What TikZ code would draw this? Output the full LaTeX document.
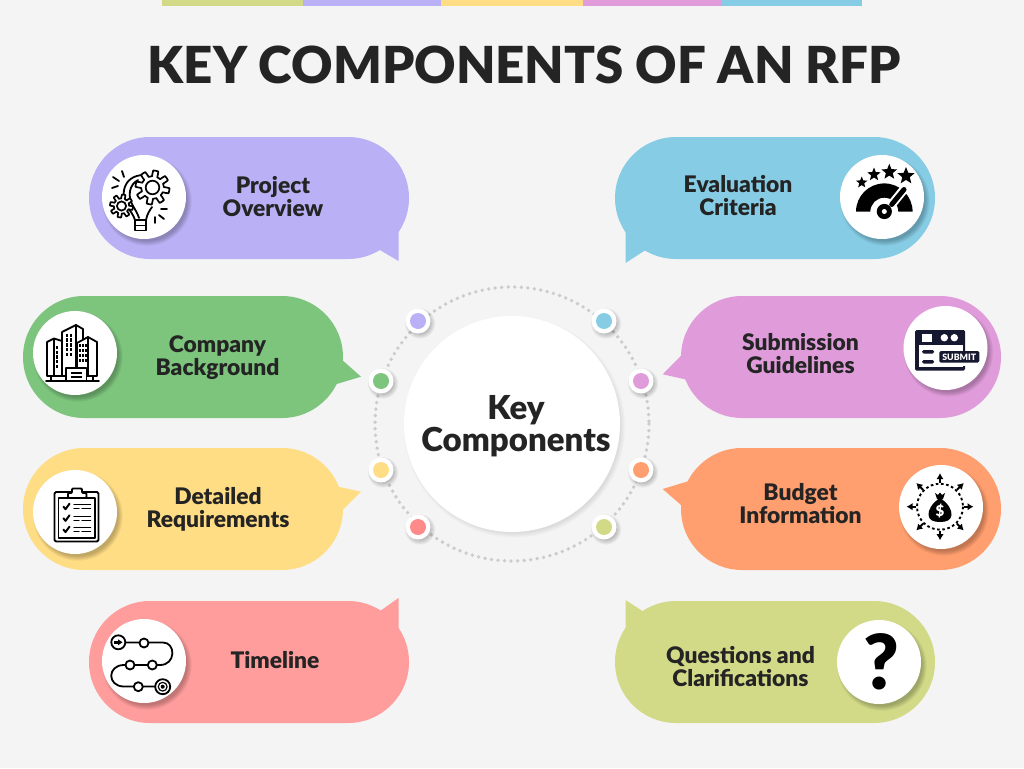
\documentclass[tikz,border=0pt]{standalone}
\usepackage{fontspec}
\setmainfont{Lato}[BoldFont={Lato Black}]
\usetikzlibrary{shapes.geometric,arrows.meta,calc}
\definecolor{bgc}{HTML}{F4F4F4}
\definecolor{cpur}{HTML}{B9B0F5}
\definecolor{cblu}{HTML}{86CCE4}
\definecolor{cgrn}{HTML}{7DC47D}
\definecolor{cpnk}{HTML}{E09CDA}
\definecolor{cyel}{HTML}{FFDD85}
\definecolor{corg}{HTML}{FF9E6E}
\definecolor{cred}{HTML}{FF9C9C}
\definecolor{cred2}{HTML}{FF8A8A}
\definecolor{clim}{HTML}{D2DA88}
\definecolor{ink}{HTML}{242424}
\definecolor{navy}{HTML}{16182F}
\tikzset{
 x=1pt,y=-1pt,
 label/.style={font=\fontsize{22.8}{23}\selectfont\bfseries,text=ink,align=center,inner sep=0pt},
 ln/.style={draw=black,line width=1.8pt,line cap=round,line join=round},
 stard/.style={star,star points=5,star point ratio=2.3,fill=black,draw=none,inner sep=0pt,rotate=#1},
 arrowk/.style={line width=2pt,draw=black,-{Latex[length=6pt,width=7.5pt]}},
}
\newcommand{\bubble}[4]{\fill[#3] (#1+61,#2) -- (#1+259,#2) arc[start angle=-90,end angle=90,radius=61] -- (#1+61,#2+122) arc[start angle=90,end angle=270,radius=61] -- cycle;\fill[#3] #4;}
\newcommand{\softshadow}[6]{\foreach \k in {1,...,6}{\fill[black,opacity=#4] (#1+#5,#2+#6) circle[radius=#3+3.6-0.9*\k];}}
\newcommand{\iconcirc}[3]{\softshadow{#2}{#3}{42}{0.045}{3}{4}\node[circle,fill=white,minimum size=84pt,inner sep=0pt] (#1) at (#2,#3) {};}
\newcommand{\dotnode}[4]{\softshadow{#2}{#3}{12.5}{0.04}{2}{2.5}\node[circle,fill=white,minimum size=25pt,inner sep=0pt] (#1) at (#2,#3) {};\fill[#4] (#2,#3) circle[radius=8];}
\newcommand{\gear}[3]{\draw[black,fill=white,line width=1.7pt,line join=round] plot[domain=0:360,samples=145] ({#1+#3*(0.83+0.17*max(min(3*sin(8*\x),1),-1))*cos(\x)},{#2+#3*(0.83+0.17*max(min(3*sin(8*\x),1),-1))*sin(\x)}) -- cycle;
 \draw[black,line width=1.7pt] (#1,#2) circle[radius=#3*0.4];}
\begin{document}
\begin{tikzpicture}
\useasboundingbox (0,0) rectangle (1024,768);
\fill[bgc] (0,0) rectangle (1024,768);
% top strip
\fill[clim] (162,0) rectangle (303,6);
\fill[cpur] (303,0) rectangle (441,6);
\fill[cyel] (441,0) rectangle (583,6);
\fill[cpnk] (583,0) rectangle (721,6);
\fill[cblu] (721,0) rectangle (862,6);
\node[font=\fontsize{51}{55}\selectfont\bfseries,text=ink,inner sep=0pt,anchor=center] (title) at (524,65) {KEY COMPONENTS OF AN RFP};
% bubbles
\bubble{89}{137}{cpur}{(398.5,225) -- (398.5,261) -- (381.5,251) -- (370,245) -- cycle}
\bubble{615}{137}{cblu}{(625.5,225) -- (625.5,263) -- (642.5,252) -- (654,245) -- cycle}
\bubble{23}{296}{cgrn}{(330,350) -- (343,360.7) -- (361,376.7) -- (336.7,384) -- (325,390) -- cycle}
\bubble{681}{296}{cpnk}{(695,350) -- (681.7,355) -- (662.7,374.3) -- (685,379.3) -- (700,390) -- cycle}
\bubble{23}{448}{cyel}{(325,483) -- (338,486.7) -- (361,491.7) -- (342.7,510) -- (330,515) -- cycle}
\bubble{681}{448}{corg}{(700,478) -- (686.7,481.7) -- (662.7,489) -- (681,505) -- (695,512) -- cycle}
\bubble{89}{601}{cred}{(370,620) -- (381.5,610) -- (398.5,598) -- (398.5,636) -- cycle}
\bubble{615}{601}{clim}{(654,620) -- (642.5,611) -- (625.5,600) -- (625.5,636) -- cycle}
% ring
\draw[color=black!20,line width=3.8pt,line cap=round,dash pattern=on 0pt off 6.55pt] (512,424) circle[radius=137];
% centre
\softshadow{512}{424}{108}{0.014}{2.5}{3}
\node[circle,fill=white,minimum size=216pt,inner sep=0pt] (hub) at (512,424) {};
\node[font=\fontsize{33}{32}\selectfont\bfseries,text=ink,align=center,inner sep=0pt] (hubt) at (516,426.5) {Key\\Components};
\dotnode{d1}{418}{321}{cpur}
\dotnode{d2}{604}{321}{cblu}
\dotnode{d3}{381}{381}{cgrn}
\dotnode{d4}{641}{381}{cpnk}
\dotnode{d5}{381}{470}{cyel}
\dotnode{d6}{641}{470}{corg}
\dotnode{d7}{418}{527}{cred2}
\dotnode{d8}{604}{527}{clim}
% labels
\node[label] (l1) at (273,196.5) {Project\\Overview};
\node[label] (l2) at (217.5,357.5) {Company\\Background};
\node[label] (l3) at (218,509) {Detailed\\Requirements};
\node[label] (l4) at (275,660) {Timeline};
\node[label] (l5) at (738,195.5) {Evaluation\\Criteria};
\node[label] (l6) at (800.5,353.5) {Submission\\Guidelines};
\node[label] (l7) at (800.5,503.5) {Budget\\Information};
\node[label] (l8) at (740.5,666.5) {Questions and\\Clarifications};
% icon discs
\iconcirc{i1}{144}{197}
\iconcirc{i2}{75}{353}
\iconcirc{i3}{75}{512}
\iconcirc{i4}{144}{661}
\iconcirc{i5}{882}{197}
\iconcirc{i6}{945.5}{348}
\iconcirc{i7}{941}{507}
\iconcirc{i8}{879}{662}
% icon 1: bulb and gears
\draw[ln] (135,220) .. controls (132,210) and (122,205) .. (124,190) .. controls (126,180) and (134,175) .. (144,175);
\draw[ln] (139,218) .. controls (136,208) and (128,203) .. (130,191) .. controls (131,186) and (134,182) .. (138,180);
\draw[ln] (146,220) .. controls (147,214) and (150,210) .. (152,207);
\draw[ln,fill=white] (135,220) rectangle (146,230.5);
\draw[ln] (135,225.5) -- (146,225.5);
\gear{121.5}{206}{11.5}
\gear{152.5}{187.5}{17}
\draw[ln] (113,177) -- (119,181) (122,171) -- (124,177) (112,188) -- (118,186);
\draw[ln] (161,209) -- (167,209) (159,215) -- (164,219) (155,217) -- (155,223);
% icon 2: buildings
\draw[ln] (46,380.7) -- (99,380.7);
\draw[ln,fill=white] (47,342) -- (47,376) -- (62,376) -- (62,341) -- (54,338.5) -- cycle;
\draw[ln] (54,339) -- (54,376);
\draw[ln,fill=white] (62,332) -- (76,325) -- (83,329) -- (83,376) -- (62,376) -- cycle;
\draw[ln] (76,325) -- (76,368);
\draw[ln,fill=white] (77,343) -- (88,337) -- (97,342) -- (97,376) -- (77,376) -- cycle;
\draw[ln] (88,337) -- (88,376);
\foreach \u in {0,1}{\foreach \v in {0,1,2,3,4}{\fill (65.5+\u*4,333.5+\v*4.8) rectangle +(2.6,3.4);}}
\foreach \u in {0,1,2}{\foreach \v in {0,1,2,3}{\fill (79.3+\u*2.9,344+\v*5) rectangle +(2,3.2);}}
\foreach \v in {0,1,2,3,4}{\fill (56,346+\v*4.7) rectangle +(2.4,3.2);}
\draw[ln,fill=white] (66,368) rectangle (86.5,380.7);
\fill (71,372) rectangle (82,374);\fill (71,376) rectangle (82,378);
\draw[ln] (51,376) -- (51,380.7) (93,376) -- (93,380.7);
% icon 3: clipboard
\draw[ln,rounded corners=1.5pt] (54.5,492) rectangle (98.5,541.5);
\draw[ln,line width=1.4pt] (58.5,498) rectangle (95,538);
\draw[ln,fill=white,rounded corners=1pt] (68,493) -- (72,493) -- (72,488.5) -- (82,488.5) -- (82,493) -- (86.5,493) -- (86.5,498) -- (68,498) -- cycle;
\foreach \yy in {506.7,518.3,529.6}{
 \draw[ln,line width=2pt] (63.5,\yy) -- (65.5,\yy+2.5) -- (69.5,\yy-3);
 \draw[ln,line width=1.4pt] (74,\yy-2) -- (90.5,\yy-2) (74,\yy+2) -- (79,\yy+2) (82,\yy+2) -- (90.5,\yy+2);}
% icon 4: timeline
\draw[ln] (125,642.5) -- (163,642.5) .. controls (176,642.5) and (176,665) .. (160,665) -- (124,665) .. controls (107,665) and (107,686.5) .. (124,686.5) -- (155,686.5);
\draw[ln,fill=white] (118.3,642.3) circle[radius=7];
\fill (114,641) rectangle (119,643.6);\fill (118,639.3) -- (122.5,642.3) -- (118,645.3) -- cycle;
\foreach \p/\q in {144/643,152.3/665,130/665,138.3/686.7}{\draw[ln,fill=white] (\p,\q) circle[radius=4.5];}
\draw[ln,fill=white] (162.7,686.7) circle[radius=7.5];
\draw[ln,line width=1.2pt] (162.7,686.7) circle[radius=4.4];
\fill (162.7,686.7) circle[radius=2];
% icon 5: gauge and stars
\fill (856,211.7) arc[start angle=180,end angle=360,radius=28.3] -- (898.3,211.7) arc[start angle=360,end angle=180,radius=14] -- cycle;
\draw[white,line width=9pt] (888,209) -- (907,185.5);
\draw[black,line width=5pt,line cap=round] (891.7,204.5) -- (904,189.5);
\fill (884.3,211.5) circle[radius=7.6];
\fill[white] (884.3,211.5) circle[radius=2.5];
\node[stard=0,minimum size=12pt] (s1) at (861.7,182.5) {};
\node[stard=0,minimum size=14pt] (s2) at (874,174.5) {};
\node[stard=0,minimum size=16.5pt] (s3) at (889.3,172) {};
\node[stard=0,minimum size=18pt] (s4) at (906,176) {};
% icon 6: submit
\fill[navy,rounded corners=1.5pt] (915,330) rectangle (965,370.7);
\fill[white] (919.3,345) rectangle (962.7,366.7);
\fill[white] (922.3,334) rectangle (932.3,341.7);
\fill[white] (944.3,337.7) circle[radius=3.7] (954.3,337.7) circle[radius=3.7];
\fill[navy,rounded corners=1.5pt] (922,350) rectangle (934,353.5) (922,360) rectangle (934,363.5);
\fill[white] (963,362) rectangle (966,366);
\node[fill=navy,rounded corners=1.5pt,text=white,font=\fontsize{8.8}{9}\selectfont\bfseries,inner sep=0pt,minimum width=40pt,minimum height=11.6pt] (sub) at (959.3,356.8) {SUBMIT};
% icon 7: money bag
\draw[black,line width=1.9pt,dash pattern=on 2.6pt off 2.6pt] (940,506.7) circle[radius=23];
\foreach \a in {0,45,...,315}{\draw[arrowk] ($(940,506.7)+(\a:24)$) -- ($(940,506.7)+(\a:33.5)$);}
\fill[white] (940,506.7) circle[radius=20.5];
\fill (940,498) .. controls (932,503) and (928,510) .. (928.5,515) .. controls (929,520) and (933,522) .. (940,522) .. controls (947,522) and (951,520) .. (951.5,515) .. controls (952,510) and (948,503) .. (940,498) -- cycle;
\fill (935,493) -- (938,495) -- (940,492.5) -- (942,495) -- (945,493) -- (943,499) -- (937,499) -- cycle;
\node[text=white,font=\fontsize{15}{16}\selectfont\bfseries,inner sep=0pt] (dol) at (940,511) {\$};
% icon 8
\node[text=black,font=\fontsize{76}{78}\selectfont\bfseries,inner sep=0pt] (q) at (881,662) {?};
\end{tikzpicture}
\end{document}
